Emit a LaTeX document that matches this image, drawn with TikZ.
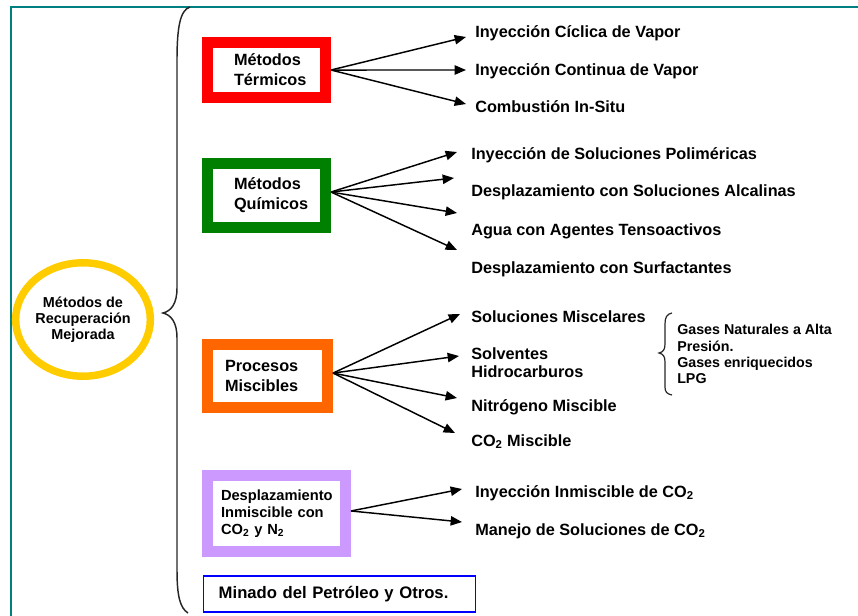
\documentclass[tikz,border=0pt]{standalone}
\usepackage{fontspec}
\setmainfont{Liberation Sans}
\usetikzlibrary{arrows.meta,shapes.geometric}
\definecolor{frameteal}{RGB}{0,128,128}
\definecolor{boxred}{RGB}{255,0,0}
\definecolor{boxgreen}{RGB}{0,128,0}
\definecolor{boxorange}{RGB}{255,102,0}
\definecolor{boxpurple}{RGB}{204,153,255}
\definecolor{ellyellow}{RGB}{255,204,0}
\definecolor{boxblue}{RGB}{0,0,255}
\begin{document}
\begin{tikzpicture}[x=0.75pt,y=-0.75pt,
  mbox/.style={draw, line width=8.25pt, fill=white, inner ysep=0pt, align=left,
    font=\fontsize{12.2}{15}\selectfont\bfseries},
  item/.style={anchor=base west, inner sep=0pt, font=\fontsize{12.2}{13.5}\selectfont\bfseries},
  arr/.style={line width=1.1pt, -{Triangle[length=8.5pt,width=7pt]}},
  bracepath/.style={line width=1.1pt, draw=black!85}]
\useasboundingbox (0,0) rectangle (858,615);

% frame
\draw[frameteal, line width=1.8pt] (11,640) -- (11,7) -- (880,7);

% big brace
\draw[bracepath] (190,7) .. controls (180,10) and (177,28) .. (177,60) -- (177,288)
  .. controls (177,304) and (171,311) .. (163,313)
  .. controls (171,315) and (177,322) .. (177,338) -- (177,570)
  .. controls (177,596) and (180,608) .. (188,613);

% root ellipse
\node[draw=ellyellow, line width=5.6pt, ellipse, minimum width=99.4pt, minimum height=85.1pt,
  inner sep=0pt, align=center, font=\fontsize{10.8}{11.8}\selectfont\bfseries]
  (root) at (83,319.5) {Métodos de\\Recuperación\\Mejorada};

% category boxes
\node[mbox, draw=boxred, minimum width=88.5pt, minimum height=40.875pt, text width=48.75pt, inner xsep=19.875pt]
  (term) at (266.5,69.75) {Métodos\\Térmicos};
\node[mbox, draw=boxgreen, minimum width=88.5pt, minimum height=48pt, text width=48.75pt, inner xsep=19.875pt]
  (quim) at (266.5,195.5) {Métodos\\Químicos};
\node[mbox, draw=boxorange, minimum width=90pt, minimum height=47.25pt, text width=63.75pt, inner xsep=13.125pt]
  (misc) at (267.5,376) {Procesos\\Miscibles};
\node[mbox, draw=boxpurple, minimum width=103.5pt, minimum height=57pt, text width=83.25pt, inner xsep=10.125pt,
  font=\fontsize{11}{12.75}\selectfont\bfseries] (inmi) at (276.5,513.5)
  {Desplazamiento\\Inmiscible con\\CO\textsubscript{2} y N\textsubscript{2}};
\node[draw=boxblue, line width=1.1pt, anchor=west, minimum height=27pt, text width=181.5pt, inner xsep=11.25pt,
  align=left, font=\fontsize{12.5}{14}\selectfont\bfseries] (mina) at (203,594) {Minado del Petróleo y Otros.};

% items: termicos
\node[item] (t1) at (475,37) {Inyección Cíclica de Vapor};
\node[item] (t2) at (475,75) {Inyección Continua de Vapor};
\node[item] (t3) at (475,112) {Combustión In-Situ};
\coordinate (et1) at (466,37);
\coordinate (et2) at (466,70);
\coordinate (et3) at (466,104);
\draw[arr] ([yshift=-0.2pt]term.east) -- (et1);
\draw[arr] ([yshift=-0.2pt]term.east) -- (et2);
\draw[arr] ([yshift=-0.2pt]term.east) -- (et3);

% items: quimicos
\node[item] (q1) at (471,159) {Inyección de Soluciones Poliméricas};
\node[item] (q2) at (471,196) {Desplazamiento con Soluciones Alcalinas};
\node[item] (q3) at (471,235) {Agua con Agentes Tensoactivos};
\node[item] (q4) at (471,273) {Desplazamiento con Surfactantes};
\coordinate (eq1) at (457,152);
\coordinate (eq2) at (454,178);
\coordinate (eq3) at (457,213);
\coordinate (eq4) at (457,250);
\foreach \e in {eq1,eq2,eq3,eq4}
  \draw[arr] ([yshift=2.6pt]quim.east) -- (\e);

% items: miscibles
\node[item] (m1) at (471,322) {Soluciones Miscelares};
\node[item, anchor=west, align=left] (m2) at (471,363) {Solventes\\Hidrocarburos};
\node[item] (m3) at (471,411) {Nitrógeno Miscible};
\node[item] (m4) at (471,446) {CO\textsubscript{2} Miscible};
\coordinate (em1) at (460,314);
\coordinate (em2) at (459,356);
\coordinate (em3) at (457,398);
\coordinate (em4) at (455,433);
\foreach \e in {em1,em2,em3,em4}
  \draw[arr] ([yshift=2.2pt]misc.east) -- (\e);

% gases sub-list
\draw[bracepath, line width=0.9pt] (672,313) .. controls (667,314) and (665,317) .. (665,324) -- (665,344)
  .. controls (665,350) and (663,352) .. (659,353)
  .. controls (663,354) and (665,356) .. (665,362) -- (665,387)
  .. controls (665,392) and (667,394) .. (672,395);
\node[inner sep=0pt, anchor=west, align=left, font=\fontsize{10.7}{12.1}\selectfont\bfseries] (gas) at (677,354)
  {Gases Naturales a Alta\\Presión.\\Gases enriquecidos\\LPG};

% items: inmiscible
\node[item] (i1) at (475,497) {Inyección Inmiscible de CO\textsubscript{2}};
\node[item] (i2) at (475,535) {Manejo de Soluciones de CO\textsubscript{2}};
\coordinate (ei1) at (462,489);
\coordinate (ei2) at (462,522);
\draw[arr] ([yshift=1.9pt]inmi.east) -- (ei1);
\draw[arr] ([yshift=1.9pt]inmi.east) -- (ei2);
\end{tikzpicture}
\end{document}
